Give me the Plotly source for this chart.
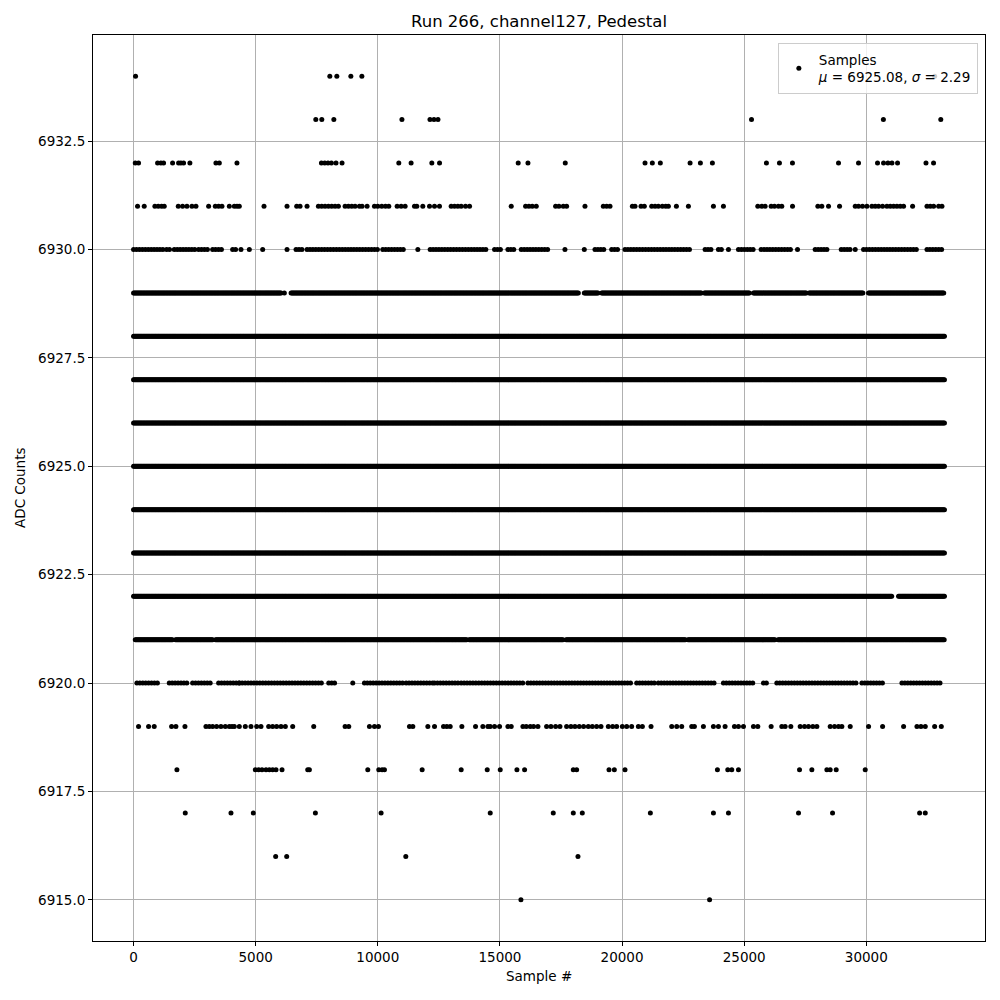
import plotly.graph_objects as go

N_SAMPLES = 33200
MEAN = 6925.08
SIGMA = 2.29

# Levels that are occupied essentially continuously over the whole run
full_levels = [6923, 6924, 6925, 6926, 6927, 6928]

# Dense levels given as runs of samples (start, end)
runs_6929 = [(0, 6040), (6175, 6175), (6450, 18210), (18455, 19030), (19165, 23260),
             (23370, 25245), (25380, 27565), (27660, 29890), (30090, 33200)]
runs_6922 = [(0, 31050), (31320, 33200)]
runs_6921 = [(70, 1620), (1720, 3260), (3360, 13640), (13740, 17610), (17710, 22600),
             (22700, 26290), (26390, 33200)]

# Semi-dense levels: clusters of samples (start, end)
runs_6930 = [(0, 1257), (1353, 1530), (1667, 2555), (2664, 3101), (3238, 3716), (4057, 4221),
             (4399, 4399), (4740, 4740), (5287, 5287), (6284, 6284), (6653, 6926), (7103, 10000),
             (10204, 11160), (11639, 11639), (12144, 14439), (14780, 15054), (15327, 15668),
             (15873, 16979), (17662, 17662), (18455, 18455), (18892, 19370), (19575, 19916),
             (20121, 22853), (23400, 23741), (23946, 24083), (24356, 24356), (24766, 25380),
             (25694, 26951), (27184, 27184), (27907, 28454), (28973, 29342), (29547, 29547),
             (29888, 32142), (32484, 33166)]
runs_6920 = [(137, 984), (1462, 2213), (2418, 3238), (3483, 4330), (4330, 7745), (7991, 8264),
             (8975, 8975), (9453, 11092), (11160, 12253), (12322, 13346), (13414, 15941),
             (16146, 20394), (20599, 21350), (21487, 23878), (24151, 25449), (25790, 25927),
             (26336, 29615), (29820, 30776), (31459, 33030)]

# Sparse levels: individual sample numbers
pts_6934 = [82, 8036, 8323, 8897, 9348, 32800]
pts_6933 = [7462, 7708, 8200, 10988, 12136, 12300, 12464, 25300, 30700, 33050]
pts_6932 = [70, 205, 984, 1119, 1230, 1598, 1844, 1938, 2049, 2307, 3373, 3512, 4233, 7692,
            7827, 7962, 8101, 8290, 8536, 10860, 11364, 12212, 12528, 15749, 16147, 17675,
            20941, 21240, 21568, 22785, 23207, 23699, 25911, 26444, 26977, 28862, 29682,
            30460, 30706, 30887, 31050, 31280, 32444, 32754]
pts_6931 = [164, 437, 874, 1011, 1148, 1257, 1831, 2008, 2186, 2391, 2555, 3074, 3347, 3483,
            3620, 3921, 4126, 4235, 4330, 5341, 6284, 6680, 6817, 7103, 7568, 7704, 7841,
            7978, 8114, 8251, 8387, 8661, 8797, 8934, 9070, 9248, 9357, 9562, 9863, 10000,
            10163, 10313, 10450, 10792, 10956, 11119, 11502, 11598, 11843, 12117, 12322,
            12526, 13004, 13141, 13278, 13414, 13592, 13756, 15463, 16051, 16187, 16324,
            16488, 17280, 17417, 17594, 17731, 18482, 19233, 19370, 19507, 20422, 20531,
            20777, 20913, 21214, 21351, 21487, 21651, 21788, 21897, 22225, 22717, 23741,
            24151, 25558, 25722, 25858, 26104, 26241, 26405, 26541, 26979, 28017, 28180,
            28454, 28905, 29547, 29683, 29847, 30025, 30230, 30366, 30503, 30667, 30844,
            30981, 31118, 31254, 31391, 31527, 31896, 32484, 32620, 32757, 32962, 33098]
pts_6919 = [205, 615, 847, 1557, 1735, 2104, 2964, 3101, 3238, 3402, 3579, 3757, 3921, 4030,
            4126, 4330, 4576, 4808, 5041, 5218, 5532, 5696, 5860, 6038, 6215, 6516, 7377,
            8661, 8811, 9658, 9863, 10027, 11297, 11434, 12049, 12322, 12690, 12827, 12964,
            13442, 14002, 14302, 14507, 14603, 14780, 14985, 15327, 15463, 15941, 16078,
            16242, 16379, 16556, 16911, 17089, 17280, 17458, 17731, 17908, 18072, 18250,
            18427, 18619, 18783, 18960, 19138, 19438, 19616, 19780, 20012, 20190, 20394,
            20668, 20832, 21187, 22034, 22239, 22443, 22853, 22963, 23331, 23741, 23946,
            24219, 24602, 24766, 24971, 25380, 25558, 26104, 26541, 26678, 26910, 27293,
            27470, 27634, 27812, 27976, 28522, 28700, 28864, 29000, 29342, 30093, 30667,
            31527, 32074, 32238, 32415, 32798, 33071]
pts_6918 = [1776, 4986, 5123, 5259, 5423, 5560, 5696, 5833, 6079, 7131, 7199, 9590, 10040,
            10177, 10273, 11816, 13414, 14480, 15013, 15696, 16010, 18004, 18141, 19466,
            19684, 20121, 23905, 24328, 24492, 24766, 27266, 27771, 28386, 28522, 28768, 29956]
pts_6917 = [2117, 3989, 4904, 7445, 10136, 14603, 17184, 18004, 18373, 21159, 23741, 24356,
            27225, 28618, 32183, 32415]
pts_6916 = [5819, 6270, 11147, 18195]
pts_6915 = [15860, 23584]

FULL_STEP = 40
SEMI_STEP = 120


def expand(runs, step):
    out = []
    for a, b in runs:
        out.extend(range(a, b + 1, step))
    return out


xs, ys = [], []


def add(level, samples):
    xs.extend(samples)
    ys.extend([level] * len(samples))


for lv in full_levels:
    add(lv, expand([(0, N_SAMPLES)], FULL_STEP))
add(6929, expand(runs_6929, FULL_STEP))
add(6922, expand(runs_6922, FULL_STEP))
add(6921, expand(runs_6921, FULL_STEP))
add(6930, expand(runs_6930, SEMI_STEP))
add(6920, expand(runs_6920, SEMI_STEP))
for lv, p in [(6934, pts_6934), (6933, pts_6933), (6932, pts_6932), (6931, pts_6931),
              (6919, pts_6919), (6918, pts_6918), (6917, pts_6917), (6916, pts_6916),
              (6915, pts_6915)]:
    add(lv, p)

FONT = "DejaVu Sans"

fig = go.Figure()
fig.add_trace(go.Scatter(
    x=xs, y=ys, mode="markers",
    marker=dict(color="black", size=5, line=dict(width=0)),
    name=f"Samples<br><i>μ</i> = {MEAN:.2f}, <i>σ</i> = {SIGMA:.2f}",
    showlegend=True,
))

axis_common = dict(
    showgrid=True, gridcolor="#b0b0b0", gridwidth=0.8, zeroline=False,
    showline=True, linecolor="black", linewidth=1, mirror=True,
    ticks="outside", ticklen=4, tickcolor="black", tickwidth=1,
    tickfont=dict(family=FONT, size=13.5, color="black"),
)

# page body adds an 8px margin; figure 984x984 keeps the page at 1000x1000
# so the plot area lands at x 93..985 and y 35..941 on screen
fig.update_layout(
    width=984, height=984,
    margin=dict(l=85, r=7, t=27, b=51),
    paper_bgcolor="white", plot_bgcolor="white",
    font=dict(family=FONT, size=13.5, color="black"),
    title=dict(text="Run 266, channel127, Pedestal", x=0.5, xref="paper", xanchor="center",
               y=1 - 13 / 984, yanchor="middle", yref="container",
               font=dict(family=FONT, size=16.5, color="black")),
    xaxis=dict(range=[-1660, 34860], tickmode="array",
               tickvals=[0, 5000, 10000, 15000, 20000, 25000, 30000],
               ticktext=["0", "5000", "10000", "15000", "20000", "25000", "30000"],
               **axis_common),
    yaxis=dict(range=[6914.05, 6934.95], tickmode="linear", tick0=6915, dtick=2.5,
               tickformat=".1f", **axis_common),
    legend=dict(x=0.992, y=0.991, xanchor="right", yanchor="top",
                bgcolor="rgba(255,255,255,0.8)", bordercolor="#cccccc", borderwidth=1,
                font=dict(family=FONT, size=13.5, color="black"), itemsizing="trace"),
    showlegend=True,
    annotations=[
        dict(text="Sample #", xref="paper", yref="paper", x=0.5, y=-(976 - 941) / 906,
             xanchor="center", yanchor="middle", showarrow=False,
             font=dict(family=FONT, size=13.5, color="black")),
        dict(text="ADC Counts", xref="paper", yref="paper", x=(20 - 93) / 892, y=0.5,
             xanchor="center", yanchor="middle", textangle=-90, showarrow=False,
             font=dict(family=FONT, size=13.5, color="black")),
    ],
)

fig.write_html("out.html")
